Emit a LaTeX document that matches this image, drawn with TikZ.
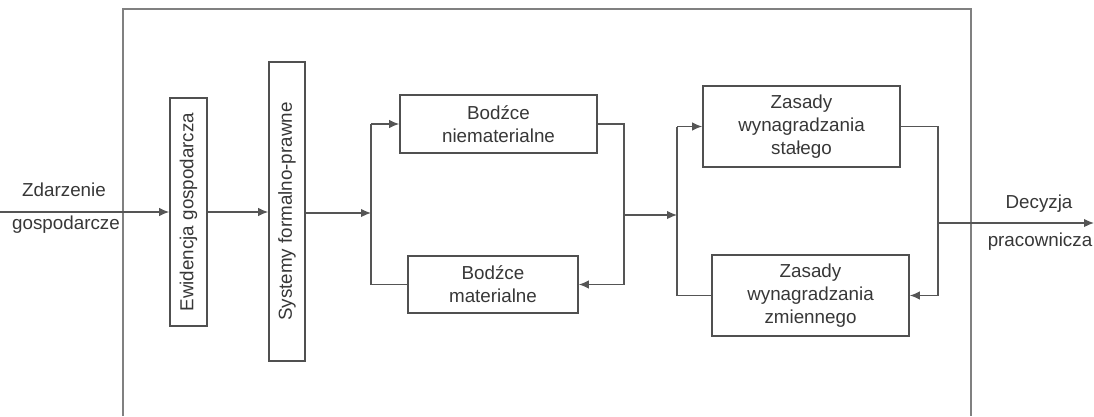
\documentclass[tikz,border=0pt]{standalone}
\usepackage{fontspec}
\usepackage{graphicx}
\setmainfont{Liberation Sans}
\usetikzlibrary{arrows.meta}
\definecolor{framegray}{RGB}{128,128,128}
\definecolor{boxgray}{RGB}{80,80,80}
\definecolor{linegray}{RGB}{85,85,85}
\definecolor{txtgray}{RGB}{55,55,55}
\begin{document}
\begin{tikzpicture}[x=1pt,y=-1pt,
  box/.style={draw=boxgray, line width=1.6pt, inner sep=0pt, align=center,
    font=\fontsize{18.8}{22.7}\selectfont, text=txtgray},
  link/.style={draw=linegray, line width=1.3pt},
  flow/.style={link, -{Latex[length=10pt,width=8.5pt]}},
  lbl/.style={inner sep=0pt, font=\fontsize{18.8}{22.7}\selectfont, text=txtgray}]
\useasboundingbox (0,0) rectangle (1094,416);

% frame around the decision process (open at the bottom)
\draw[framegray, line width=1.6pt] (123,416) -- (123,9) -- (971,9) -- (971,416);

% blocks
\node[box, minimum width=37pt, minimum height=228pt] (ewid) at (188.5,212)
  {\rotatebox{90}{Ewidencja gospodarcza}};
\node[box, minimum width=36pt, minimum height=299pt] (sys) at (287,211.5)
  {\rotatebox{90}{Systemy formalno-prawne}};
\node[box, minimum width=197pt, minimum height=58pt] (bnm) at (498.5,124)
  {Bodźce\\niematerialne};
\node[box, minimum width=170pt, minimum height=57pt] (bm) at (493,284.5)
  {Bodźce\\materialne};
\node[box, minimum width=197pt, minimum height=81pt] (zs) at (801.5,126.5)
  {Zasady\\wynagradzania\\stałego};
\node[box, minimum width=197pt, minimum height=81pt] (zz) at (810.5,295.5)
  {Zasady\\wynagradzania\\zmiennego};

% branch points and loose ends
\coordinate (src) at (0,212);
\coordinate (j1) at (371,213);
\coordinate (r1) at (624,215);
\coordinate (j2) at (677,215);
\coordinate (r2) at (938,223);
\coordinate (sink) at (1094,223);

% input and the first two stages
\draw[flow] (src) -- (ewid.west);
\draw[flow] (ewid.east) -- (sys.west |- ewid.east);
\draw[flow] (sys.east |- j1) -- (j1);

% incentives loop
\draw[link] (bnm.west -| j1) -- (bm.west -| j1);
\draw[flow] (bnm.west -| j1) -- (bnm.west);
\draw[link] (bm.west) -- (bm.west -| j1);
\draw[link] (bnm.east) -- (bnm.east -| r1) -- (bm.east -| r1);
\draw[flow] (bm.east -| r1) -- (bm.east);
\draw[flow] (r1) -- (j2);

% remuneration loop
\draw[link] (zs.west -| j2) -- (zz.west -| j2);
\draw[flow] (zs.west -| j2) -- (zs.west);
\draw[link] (zz.west) -- (zz.west -| j2);
\draw[link] (zs.east) -- (zs.east -| r2) -- (zz.east -| r2);
\draw[flow] (zz.east -| r2) -- (zz.east);
\draw[flow] (r2) -- (sink);

% labels of input and output
\node[lbl] (inA) at (64,190) {Zdarzenie};
\node[lbl] (inB) at (66,225) {gospodarcze};
\node[lbl] (outA) at (1039,204) {Decyzja};
\node[lbl] (outB) at (1040,242) {pracownicza};
\end{tikzpicture}
\end{document}
